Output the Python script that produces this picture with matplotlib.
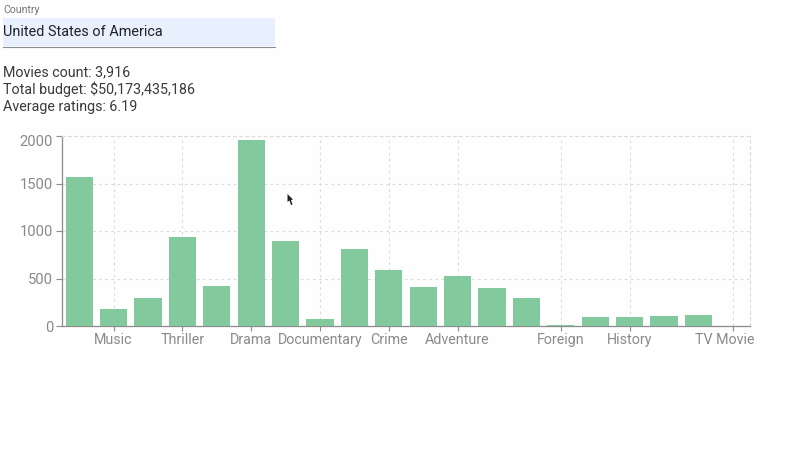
import matplotlib
matplotlib.use('Agg')
import matplotlib.pyplot as plt
from matplotlib.patches import Rectangle, Polygon
from matplotlib.transforms import ScaledTranslation

plt.rcParams['font.family'] = ['Roboto', 'DejaVu Sans']

W, H = 800, 450

genre_pos = list(range(20))
counts = [1570, 180, 300, 940, 420, 1960, 890, 75, 810, 590,
          410, 530, 400, 300, 12, 100, 95, 105, 115, 3]
tick_pos = [1, 3, 5, 7, 9, 11, 14, 16, 19]
tick_labels = ['Music', 'Thriller', 'Drama', 'Documentary', 'Crime',
               'Adventure', 'Foreign', 'History', 'TV Movie']
y_ticks = [0, 500, 1000, 1500, 2000]
stats = ['Movies count: 3,916', 'Total budget: $50,173,435,186', 'Average ratings: 6.19']

fig = plt.figure(figsize=(8, 4.5), dpi=100, facecolor='#fefefe')


def px(x, y):
    # pixel coords from top left -> figure fraction
    return x / W, 1 - y / H


# country select box
fig.add_artist(Rectangle(px(3, 46), 272 / W, 28 / H, transform=fig.transFigure,
                         facecolor='#e8f0fe', edgecolor='none'))
fig.add_artist(plt.Line2D([3 / W, 275 / W], [1 - 46.5 / H] * 2, color='#8a8e95', lw=0.8))
fig.text(*px(3, 10), 'Country', fontsize=7.6, color='#757575', va='center')
fig.text(*px(3, 32), 'United States of America', fontsize=10.4, color='#202124', va='center')

for i, line in enumerate(stats):
    fig.text(*px(3, 72.5 + i * 17), line, fontsize=10.3, color='#3a3a3a', va='center')

# chart
ax = fig.add_axes([62 / W, (H - 326) / H, 688 / W, 190 / H])
ax.set_facecolor('none')
ax.bar(genre_pos, counts, width=0.79, color='#82ca9d', zorder=3)
ax.set_xlim(-0.5, 19.5)
ax.set_ylim(0, 2000)

ax.set_xticks(tick_pos)
ax.set_xticklabels(tick_labels)
ax.set_yticks(y_ticks)
ax.tick_params(axis='x', color='#8c8c8c', labelcolor='#8a8a8a', labelsize=10.3, length=3.6, width=0.8, pad=1.6)
ax.tick_params(axis='y', color='#8c8c8c', labelcolor='#8a8a8a', labelsize=10.6, length=4.3, width=0.8, pad=2)
ax.grid(True, color='#dcdcdc', linestyle=(0, (2.5, 3)), linewidth=0.8, zorder=0)

# the outer labels are pushed back inside the chart area
ax.get_yticklabels()[-1].set_transform(
    ax.get_yticklabels()[-1].get_transform() + ScaledTranslation(0, -4 / 100, fig.dpi_scale_trans))
ax.get_xticklabels()[-1].set_transform(
    ax.get_xticklabels()[-1].get_transform() + ScaledTranslation(-8 / 100, 0, fig.dpi_scale_trans))

for side in ['top', 'right']:
    ax.spines[side].set_color('#dcdcdc')
    ax.spines[side].set_linestyle((0, (2.5, 3)))
    ax.spines[side].set_linewidth(0.8)
for side in ['left', 'bottom']:
    ax.spines[side].set_color('#8c8c8c')
    ax.spines[side].set_linewidth(0.9)
    ax.spines[side].set_zorder(2.5)

# mouse pointer from the screen capture
cursor = [(287.5, 194), (287.5, 202), (289.5, 200.5), (291, 205), (292.5, 204.5), (291, 200), (293, 199.5)]
fig.add_artist(Polygon([px(x, y) for x, y in cursor], closed=True,
                       transform=fig.transFigure, facecolor='#222222', edgecolor='none'))

fig.savefig('out.png', dpi=100, facecolor=fig.get_facecolor())
